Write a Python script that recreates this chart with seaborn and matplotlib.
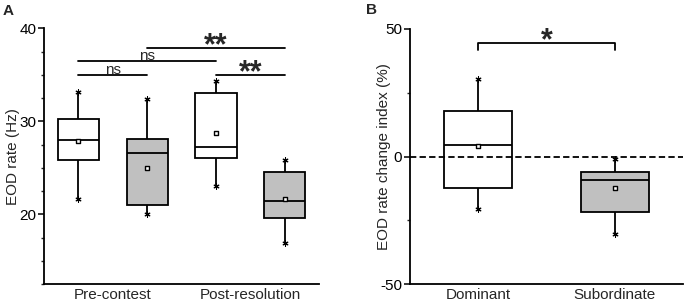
import matplotlib
matplotlib.use("Agg")
import matplotlib.pyplot as plt
from matplotlib.ticker import MultipleLocator
import numpy as np
import pandas as pd
import seaborn as sns

# ---- panel A: EOD rate (Hz), five-number summaries
a_groups = ["Pre D", "Pre S", "Post D", "Post S"]
a_colors = ["white", "#c0c0c0", "white", "#c0c0c0"]
a_whislo = [21.7, 20.0, 23.05, 16.9]
a_q1 = [25.8, 21.0, 26.05, 19.6]
a_med = [28.0, 26.6, 27.3, 21.45]
a_q3 = [30.3, 28.1, 33.05, 24.6]
a_whishi = [33.2, 32.4, 34.3, 25.9]
a_mean = [27.9, 25.0, 28.8, 21.7]
a_ticklabels = ["Pre-contest", "Post-resolution"]
# (from box, to box, height, label)
a_sig = [(0, 1, 35.0, "ns"), (0, 2, 36.5, "ns"), (1, 3, 37.9, "**"), (2, 3, 35.0, "**")]

# ---- panel B: EOD rate change index (%)
b_groups = ["Dominant", "Subordinate"]
b_colors = ["white", "#c0c0c0"]
b_whislo = [-20.6, -30.4]
b_q1 = [-12.1, -21.5]
b_med = [4.6, -9.1]
b_q3 = [18.0, -6.1]
b_whishi = [30.4, -0.9]
b_mean = [4.3, -12.1]
b_sig = (0, 1, 44.6, 41.8, "*")


def five_num_frame(labels, lo, q1, med, q3, hi):
    # 5 values per box -> percentiles 0/25/50/75/100 land exactly on them
    rows = []
    for i, lab in enumerate(labels):
        for v in (lo[i], q1[i], med[i], q3[i], hi[i]):
            rows.append({"group": lab, "value": v})
    return pd.DataFrame(rows)


def draw_boxes(ax, labels, colors, lo, q1, med, q3, hi, means, width):
    df = five_num_frame(labels, lo, q1, med, q3, hi)
    sns.boxplot(data=df, x="group", y="value", hue="group", order=labels,
                hue_order=labels, palette=colors, saturation=1, width=width,
                whis=(0, 100), showcaps=False, linecolor="black", linewidth=1.3,
                legend=False, ax=ax)
    pos = np.arange(len(labels))
    ax.scatter(pos, hi, marker=(6, 2, 0), s=14, color="black", lw=0.8, zorder=4)
    ax.scatter(pos, lo, marker=(6, 2, 0), s=14, color="black", lw=0.8, zorder=4)
    ax.scatter(pos, means, marker="s", s=11, facecolor="white", edgecolor="black",
               lw=1.0, zorder=5)


def style_axis(ax):
    sns.despine(ax=ax)
    for s in ("left", "bottom"):
        ax.spines[s].set_linewidth(1.3)
        ax.spines[s].set_color("black")
    ax.tick_params(axis="y", which="major", length=4, width=1.1, pad=1.5,
                   labelsize=11, colors="black")
    ax.tick_params(axis="y", which="minor", length=2.2, width=1.0)
    ax.tick_params(axis="x", length=0, labelsize=11, pad=3)
    ax.set_xlabel("")


sns.set_style("ticks")
plt.rcParams["font.family"] = ["Liberation Sans", "DejaVu Sans"]
plt.rcParams["axes.unicode_minus"] = False

fig = plt.figure(figsize=(6.87, 3.05), dpi=100)
axA = fig.add_axes([44 / 687, 1 - 284.3 / 305, (319 - 44) / 687, (284.3 - 28.3) / 305])
axB = fig.add_axes([410 / 687, 1 - 284.3 / 305, (683 - 410) / 687, (284.3 - 29) / 305])

# panel A
draw_boxes(axA, a_groups, a_colors, a_whislo, a_q1, a_med, a_q3, a_whishi, a_mean, 0.6)
axA.set_xlim(-0.5, 3.5)
axA.set_ylim(12.5, 40)
axA.set_yticks([20, 30, 40])
axA.yaxis.set_minor_locator(MultipleLocator(2.5))
axA.set_xticks([0.5, 2.5])
axA.set_xticklabels(a_ticklabels)
axA.set_ylabel("EOD rate (Hz)", fontsize=11, labelpad=-0.5)
style_axis(axA)

for x0, x1, h, lab in a_sig:
    axA.plot([x0, x1], [h, h], color="black", lw=1.3)
    if lab == "ns":
        axA.annotate(lab, xy=((x0 + x1) / 2, h), xytext=(0, 0.8),
                     textcoords="offset points", ha="center", va="baseline",
                     fontsize=11)
    else:
        axA.annotate(lab, xy=((x0 + x1) / 2, h), xytext=(0, -4.5),
                     textcoords="offset points", ha="center", va="baseline",
                     fontsize=22, fontweight="bold")

# panel B
draw_boxes(axB, b_groups, b_colors, b_whislo, b_q1, b_med, b_q3, b_whishi, b_mean, 0.5)
axB.axhline(0, color="black", lw=1.3, ls=(0, (3.5, 1.8)), zorder=6)
axB.set_xlim(-0.5, 1.5)
axB.set_ylim(-50, 50)
axB.set_yticks([-50, 0, 50])
axB.yaxis.set_minor_locator(MultipleLocator(25))
axB.set_ylabel("EOD rate change index (%)", fontsize=11, labelpad=-8)
style_axis(axB)

x0, x1, h, leg, lab = b_sig
axB.plot([x0, x0, x1, x1], [leg, h, h, leg], color="black", lw=1.3)
axB.annotate(lab, xy=((x0 + x1) / 2, h), xytext=(0, -4.5),
             textcoords="offset points", ha="center", va="baseline",
             fontsize=22, fontweight="bold")

fig.text(3 / 687, 1 - 15 / 305, "A", fontsize=11, fontweight="bold")
fig.text(366 / 687, 1 - 14 / 305, "B", fontsize=11, fontweight="bold")

fig.savefig("out.png", dpi=100)
